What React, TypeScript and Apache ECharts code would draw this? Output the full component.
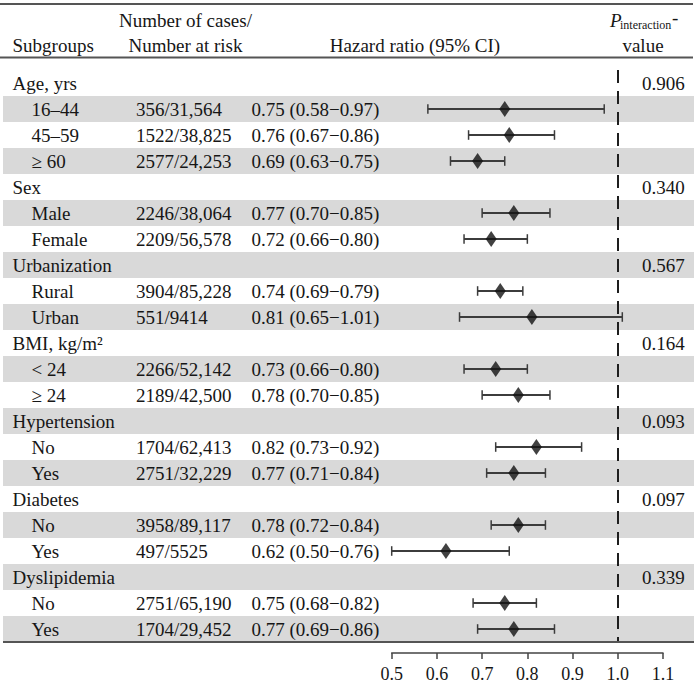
import React, { useEffect, useRef } from "react";
import * as echarts from "echarts";

const groupNames = ["Age, yrs", "Sex", "Urbanization", "BMI, kg/m²", "Hypertension", "Diabetes", "Dyslipidemia"];
const pInteraction = ["0.906", "0.340", "0.567", "0.164", "0.093", "0.097", "0.339"];
const subgroupNames = [
  ["16–44", "45–59", "≥ 60"],
  ["Male", "Female"],
  ["Rural", "Urban"],
  ["< 24", "≥ 24"],
  ["No", "Yes"],
  ["No", "Yes"],
  ["No", "Yes"],
];
const casesAtRisk = [
  ["356/31,564", "1522/38,825", "2577/24,253"],
  ["2246/38,064", "2209/56,578"],
  ["3904/85,228", "551/9414"],
  ["2266/52,142", "2189/42,500"],
  ["1704/62,413", "2751/32,229"],
  ["3958/89,117", "497/5525"],
  ["2751/65,190", "1704/29,452"],
];
const hazardRatio = [[0.75, 0.76, 0.69], [0.77, 0.72], [0.74, 0.81], [0.73, 0.78], [0.82, 0.77], [0.78, 0.62], [0.75, 0.77]];
const ciLower = [[0.58, 0.67, 0.63], [0.70, 0.66], [0.69, 0.65], [0.66, 0.70], [0.73, 0.71], [0.72, 0.50], [0.68, 0.69]];
const ciUpper = [[0.97, 0.86, 0.75], [0.85, 0.80], [0.79, 1.01], [0.80, 0.85], [0.92, 0.84], [0.84, 0.76], [0.82, 0.86]];
const axisMin = 0.5;
const axisMax = 1.1;
const axisStep = 0.1;
const referenceHR = 1.0;

type Row = {
  kind: "group" | "sub";
  label: string;
  p?: string;
  cases?: string;
  hr?: number;
  lo?: number;
  hi?: number;
};

const rows: Row[] = [];
groupNames.forEach((g, gi) => {
  rows.push({ kind: "group", label: g, p: pInteraction[gi] });
  subgroupNames[gi].forEach((s, si) => {
    rows.push({
      kind: "sub",
      label: s,
      cases: casesAtRisk[gi][si],
      hr: hazardRatio[gi][si],
      lo: ciLower[gi][si],
      hi: ciUpper[gi][si],
    });
  });
});

const FONT = '"Liberation Serif", "Times New Roman", serif';
const TXT = "#161616";
const FS = 19;

function txt(x: number, y: number, text: string, align: string = "left", extra: any = {}) {
  return {
    type: "text",
    x,
    y,
    style: {
      text,
      fill: TXT,
      fontFamily: FONT,
      fontSize: FS,
      align,
      verticalAlign: "middle",
      textAlign: align,
      textVerticalAlign: "middle",
      ...extra,
    },
  };
}

export default function App() {
  const ref = useRef<HTMLDivElement>(null);
  useEffect(() => {
    if (!ref.current) return;
    const chart = echarts.init(ref.current, null, { renderer: "svg" });
    const cats = rows.map((_, i) => String(i));

    const option: any = {
      animation: false,
      backgroundColor: "#ffffff",
      grid: { left: 391.7, right: 31, top: 70, bottom: 42, containLabel: false },
      xAxis: {
        type: "value",
        min: axisMin,
        max: axisMax,
        interval: axisStep,
        position: "bottom",
        offset: 11,
        axisLine: { show: true, lineStyle: { color: "#444", width: 1.5 } },
        axisTick: { show: true, length: 6, lineStyle: { color: "#444", width: 1.5 } },
        axisLabel: {
          fontFamily: FONT,
          fontSize: 18,
          color: TXT,
          margin: 12,
          formatter: (v: number) => v.toFixed(1),
        },
        splitLine: { show: false },
      },
      yAxis: {
        type: "category",
        data: cats,
        inverse: true,
        show: false,
      },
      series: [
        {
          type: "custom",
          name: "table",
          z: 1,
          clip: false,
          data: rows.map((_, i) => [axisMin, String(i)]),
          encode: { x: 0, y: 1 },
          renderItem: (params: any, api: any) => {
            const i = params.dataIndex;
            const r = rows[i];
            const c = api.coord([axisMin, i]);
            const h = api.size([0, 1])[1];
            const y = c[1];
            const children: any[] = [];
            if (i % 2 === 1) {
              children.push({
                type: "rect",
                shape: { x: 3, y: y - h / 2, width: 691, height: h },
                style: { fill: "#d9d9d9" },
              });
            }
            if (r.kind === "group") {
              children.push(txt(12.5, y + 0.5, r.label));
              children.push(txt(642, y + 0.5, r.p as string));
            } else {
              children.push(txt(31.5, y + 0.5, r.label));
              children.push(txt(136, y + 0.5, r.cases as string));
              const s = `${(r.hr as number).toFixed(2)} (${(r.lo as number).toFixed(2)}−${(r.hi as number).toFixed(2)})`;
              children.push(txt(251.5, y + 0.5, s));
            }
            return { type: "group", children };
          },
        },
        {
          type: "custom",
          name: "ci",
          z: 2,
          clip: false,
          data: rows
            .map((r, i) => (r.kind === "sub" ? [r.lo, r.hi, String(i)] : null))
            .filter((d) => d !== null),
          encode: { x: [0, 1], y: 2 },
          renderItem: (params: any, api: any) => {
            const lo = api.value(0);
            const hi = api.value(1);
            const idx = api.value(2);
            const p1 = api.coord([lo, idx]);
            const p2 = api.coord([hi, idx]);
            const cap = 4.8;
            const st = { stroke: "#3c3c3c", lineWidth: 2 };
            return {
              type: "group",
              children: [
                { type: "line", shape: { x1: p1[0], y1: p1[1], x2: p2[0], y2: p2[1] }, style: st },
                { type: "line", shape: { x1: p1[0], y1: p1[1] - cap, x2: p1[0], y2: p1[1] + cap }, style: { ...st, lineWidth: 1.5 } },
                { type: "line", shape: { x1: p2[0], y1: p2[1] - cap, x2: p2[0], y2: p2[1] + cap }, style: { ...st, lineWidth: 1.5 } },
              ],
            };
          },
        },
        {
          type: "scatter",
          name: "hr",
          z: 3,
          symbol: "diamond",
          symbolSize: [11, 16],
          itemStyle: { color: "#111111" },
          data: rows
            .map((r, i) => (r.kind === "sub" ? [r.hr, String(i)] : null))
            .filter((d) => d !== null),
          markLine: {
            silent: true,
            symbol: ["none", "none"],
            label: { show: false },
            lineStyle: { color: "#1e1e1e", width: 2, type: [13, 8] },
            data: [{ xAxis: referenceHR }],
          },
        },
      ],
      graphic: [
        { type: "line", z: 10, shape: { x1: 0, y1: 4, x2: 693, y2: 4 }, style: { stroke: "#555", lineWidth: 2 } },
        { type: "line", z: 10, shape: { x1: 0, y1: 57.5, x2: 693, y2: 57.5 }, style: { stroke: "#555", lineWidth: 2 } },
        { type: "line", z: 10, shape: { x1: 3, y1: 642, x2: 694, y2: 642 }, style: { stroke: "#555", lineWidth: 2 } },
        txt(185.5, 20, "Number of cases/", "center"),
        txt(12.5, 45, "Subgroups"),
        txt(185.5, 45, "Number at risk", "center"),
        txt(415, 45, "Hazard ratio (95% CI)", "center"),
        txt(610, 20, "P", "left", { fontStyle: "italic" }),
        txt(620, 25, "interaction", "left", { fontSize: 12 }),
        txt(672, 17, "-", "left"),
        txt(643, 45, "value", "center"),
      ],
    };
    chart.setOption(option);
    return () => chart.dispose();
  }, []);

  return (
    <div
      ref={ref}
      style={{ position: "absolute", left: 0, top: 0, width: 694, height: 684 }}
    />
  );
}
